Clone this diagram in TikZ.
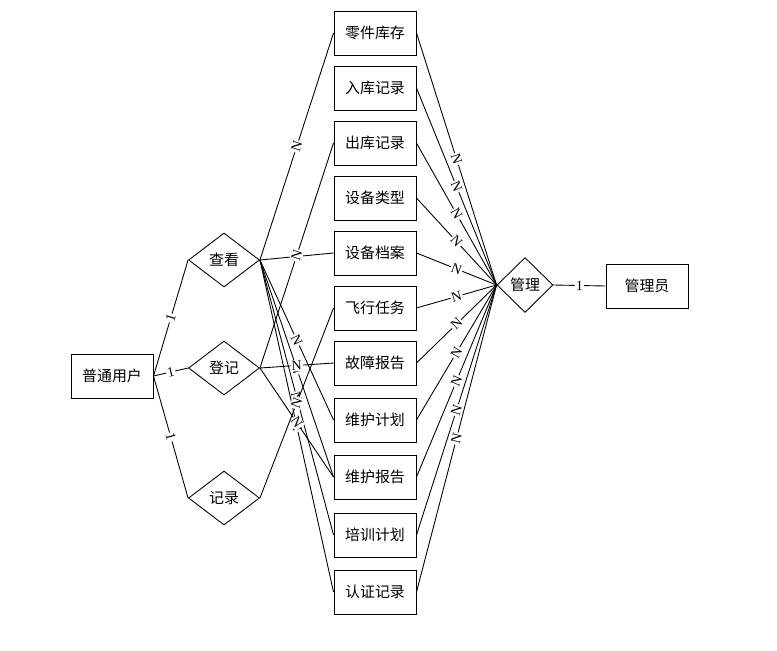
\documentclass[tikz,border=0pt]{standalone}
\usepackage{fontspec}
\setmainfont{Liberation Serif}
\newfontfamily\cjk{Noto Sans CJK SC}
\usetikzlibrary{shapes.geometric}
\begin{document}
\begin{tikzpicture}[x=0.02cm,y=-0.02cm,line width=0.5pt,
  ent/.style={draw,line width=0.55pt,minimum width=1.64cm,minimum height=0.88cm,inner sep=0pt,font={\cjk\fontsize{8.5}{10}\selectfont}},
  rel/.style={draw,diamond,minimum width=1.42cm,minimum height=1.08cm,inner sep=0pt,font={\cjk\fontsize{8.5}{10}\selectfont}},
  lab/.style={midway,sloped,fill=white,inner sep=0.6pt,font=\fontsize{8}{9}\selectfont}]
  \useasboundingbox (0,0) rectangle (777,650);
  % entities
  \node[ent] (yh) at (112,376) {普通用户};
  \node[ent] (gly) at (647,286) {管理员};
  \foreach \i/\y/\t in {1/33/零件库存,2/88/入库记录,3/143/出库记录,4/198/设备类型,
      5/253/设备档案,6/308/飞行任务,7/363/故障报告,8/420/维护计划,
      9/477/维护报告,10/535/培训计划,11/592/认证记录}
    \node[ent] (b\i) at (375,\y) {\t};
  % relations
  \node[rel] (ck) at (224,260) {查看};
  \node[rel] (dj) at (224,368) {登记};
  \node[rel] (jl) at (224,498) {记录};
  \node[rel,minimum width=1.12cm,minimum height=1.1cm] (gl) at (525,285) {管理};
  % user side
  \draw (yh.east) -- (ck.west) node[lab] {1};
  \draw (yh.east) -- (dj.west) node[lab] {1};
  \draw (yh.east) -- (jl.west) node[lab] {1};
  \foreach \i in {1,5,8,9,10,11}
    \draw (ck.east) -- (b\i.west) node[lab] {N};
  \foreach \i in {3,7,9}
    \draw (dj.east) -- (b\i.west) node[lab] {N};
  \draw (jl.east) -- (b6.west) node[lab] {N};
  % admin side
  \foreach \i in {1,...,11}
    \draw (b\i.east) -- (gl.west) node[lab] {N};
  \draw (gl.east) -- (gly.west) node[lab] {1};
\end{tikzpicture}
\end{document}
